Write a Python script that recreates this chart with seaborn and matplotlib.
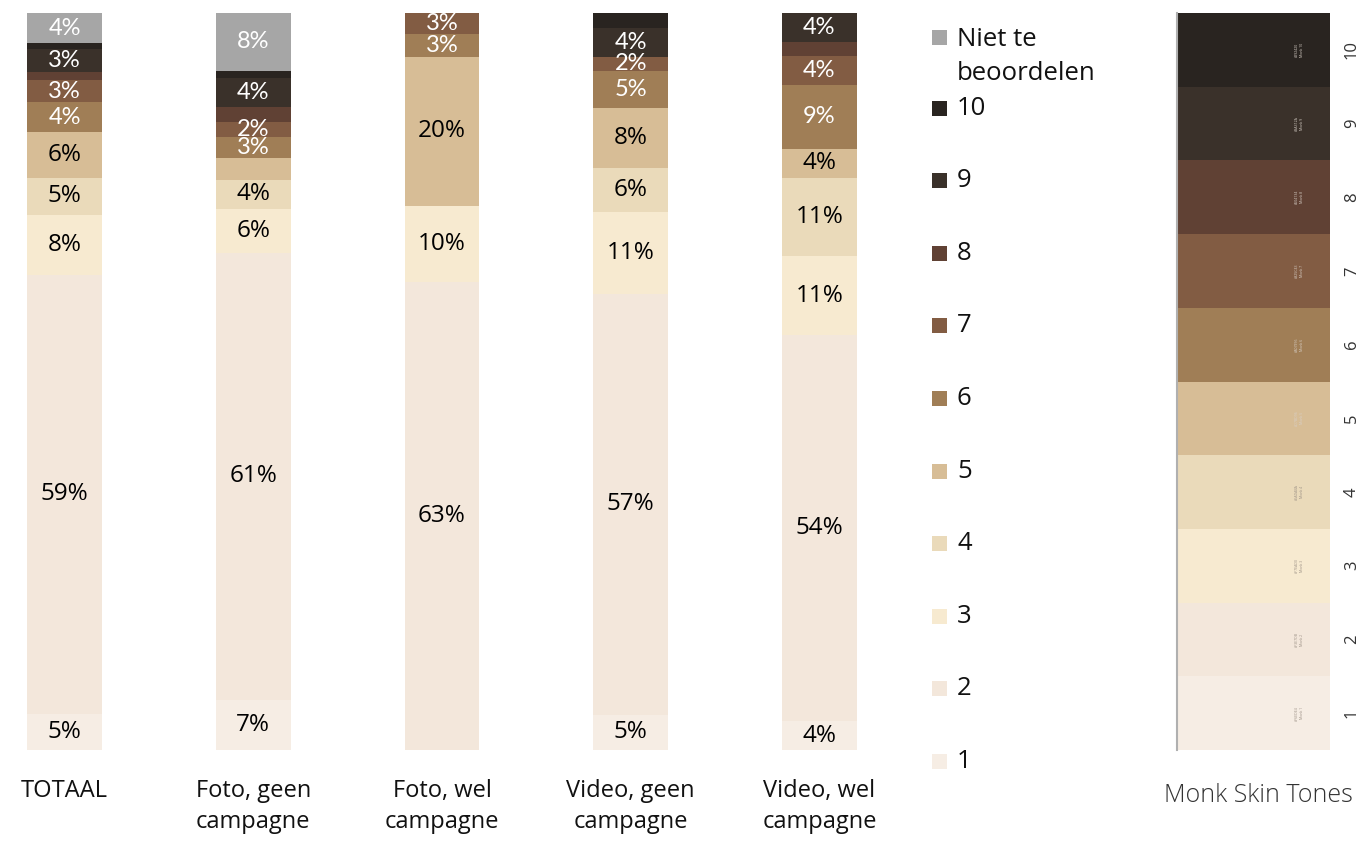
import numpy as np
import pandas as pd
import matplotlib
matplotlib.use("Agg")
import matplotlib.pyplot as plt
from matplotlib.colors import ListedColormap, to_hex
import seaborn as sns

# ---------------- data ----------------
categories = ["TOTAAL", "Foto, geen\ncampagne", "Foto, wel\ncampagne",
              "Video, geen\ncampagne", "Video, wel\ncampagne"]
tones = ["Niet te beoordelen", "10", "9", "8", "7", "6", "5", "4", "3", "2", "1"]

niet = [4.1, 7.8, 0, 0, 0]
t10 = [0.8, 1.0, 0, 2.0, 0]
t9 = [3.1, 4.0, 0, 3.9, 4]
t8 = [1.1, 2.0, 0, 0, 2]
t7 = [3.0, 2.0, 2.9, 2.0, 4]
t6 = [4.0, 2.9, 3.0, 5.0, 9]
t5 = [6.2, 2.9, 20.3, 8.1, 4]
t4 = [5.0, 3.9, 0, 6.0, 11]
t3 = [8.2, 6.0, 10.2, 11.1, 11]
t2 = [59.4, 60.6, 63.5, 57.0, 54]
t1 = [4.9, 6.8, 0, 4.8, 4]

niet_lbl = ["4%", "8%", "", "", ""]
t10_lbl = ["", "", "", "", ""]
t9_lbl = ["3%", "4%", "", "4%", "4%"]
t8_lbl = ["", "", "", "", ""]
t7_lbl = ["3%", "2%", "3%", "2%", "4%"]
t6_lbl = ["4%", "3%", "3%", "5%", "9%"]
t5_lbl = ["6%", "", "20%", "8%", "4%"]
t4_lbl = ["5%", "4%", "", "6%", "11%"]
t3_lbl = ["8%", "6%", "10%", "11%", "11%"]
t2_lbl = ["59%", "61%", "63%", "57%", "54%"]
t1_lbl = ["5%", "7%", "", "5%", "4%"]

colors = ["#a6a6a6", "#292420", "#3a312a", "#604134", "#825c43", "#a07e56",
          "#d7bd96", "#eadaba", "#f7ead0", "#f3e7db", "#f6ede4"]
dark_tones = ["Niet te beoordelen", "10", "9", "8", "7", "6"]

monk_levels = ["10", "9", "8", "7", "6", "5", "4", "3", "2", "1"]
monk_hex = ["#292420", "#3a312a", "#604134", "#825c43", "#a07e56",
            "#d7bd96", "#eadaba", "#f7ead0", "#f3e7db", "#f6ede4"]

series = [niet, t10, t9, t8, t7, t6, t5, t4, t3, t2, t1]
labels = [niet_lbl, t10_lbl, t9_lbl, t8_lbl, t7_lbl, t6_lbl, t5_lbl,
          t4_lbl, t3_lbl, t2_lbl, t1_lbl]

rows = []
for tone, vals in zip(tones, series):
    for cat, v in zip(categories, vals):
        rows.append({"categorie": cat, "tint": tone, "waarde": v})
df = pd.DataFrame(rows)
df["categorie"] = pd.Categorical(df["categorie"], categories=categories, ordered=True)

# ---------------- figure ----------------
W, H = 1364, 841
fig = plt.figure(figsize=(W / 100, H / 100), dpi=100)
sns.set_style("white")
plt.rcParams["font.family"] = ["Open Sans", "DejaVu Sans"]

def fx(px):
    return px / W

def fy(py):
    return 1 - py / H

ax = fig.add_axes([fx(7.9), fy(750), fx(868.2), 737 / H])
palette = dict(zip(tones, colors))
sns.histplot(data=df, x="categorie", hue="tint", weights="waarde",
             hue_order=tones, multiple="fill", discrete=True, shrink=0.397,
             palette=palette, alpha=1, linewidth=0, legend=False, ax=ax)
ax.set_xlim(-0.3, 4.3)
ax.set_ylim(0, 1)
ax.set_ylabel("")
ax.set_xlabel("")
ax.set_yticks([])
ax.set_xticks(range(len(categories)))
ax.set_xticklabels(categories, fontsize=17, color="#111111", linespacing=1.4)
ax.tick_params(axis="x", length=0, pad=21)
for s in ax.spines.values():
    s.set_visible(False)

# data labels: map containers to tone by face colour
for cont in ax.containers:
    fc = to_hex(cont.patches[0].get_facecolor())
    idx = [c.lower() for c in colors].index(fc.lower())
    tone = tones[idx]
    lbls = labels[idx]
    if tone in dark_tones:
        ax.bar_label(cont, labels=lbls, label_type="center", color="white",
                     fontsize=17, family=["Lato", "DejaVu Sans"])
    else:
        ax.bar_label(cont, labels=lbls, label_type="center", color="black",
                     fontsize=17.5)

# ---------------- legend (manual) ----------------
lax = fig.add_axes([0, 0, 1, 1])
lax.set_xlim(0, W)
lax.set_ylim(H, 0)
lax.axis("off")
leg_y = [37] + [108 + i * 72.6 for i in range(10)]
for tone, col, y in zip(tones, colors, leg_y):
    lax.add_patch(plt.Rectangle((932, y - 7.5), 15, 15, color=col, lw=0))
    txt = "Niet te\nbeoordelen" if tone == "Niet te beoordelen" else tone
    lax.text(957, y - 10 if "\n" in txt else y, txt, fontsize=18.5,
             va="top" if "\n" in txt else "center", ha="left",
             color="#111111", linespacing=1.48)

# ---------------- Monk skin tone scale ----------------
max_ = fig.add_axes([fx(1177), fy(750), fx(153), 737 / H])
mat = np.arange(len(monk_levels)).reshape(-1, 1)
sns.heatmap(mat, cmap=ListedColormap(monk_hex), cbar=False, ax=max_,
            xticklabels=False, yticklabels=monk_levels)
max_.yaxis.tick_right()
max_.tick_params(axis="y", length=0, pad=10, labelsize=12, labelcolor="#333333")
for t in max_.get_yticklabels():
    t.set_rotation(90)
    t.set_va("center")
max_.spines["left"].set_visible(True)
max_.spines["left"].set_color("#b0b0b0")
max_.spines["left"].set_linewidth(1.5)
for i, hx in enumerate(monk_hex):
    max_.text(0.8, i + 0.5, hx.upper() + "\nMonk " + monk_levels[i],
              rotation=90, fontsize=2.5, ha="center", va="center",
              color="#d8d0c8" if i < 6 else "#9a8f84", linespacing=1.1)
max_.set_xlabel("Monk Skin Tones", fontsize=18, color="#333333",
                family=["Open Sans", "DejaVu Sans"], fontweight="light")
max_.xaxis.set_label_coords(0.53, -0.045, transform=max_.transAxes)
max_.xaxis.label.set_va("top")

fig.savefig("out.png", dpi=100, facecolor="white")
